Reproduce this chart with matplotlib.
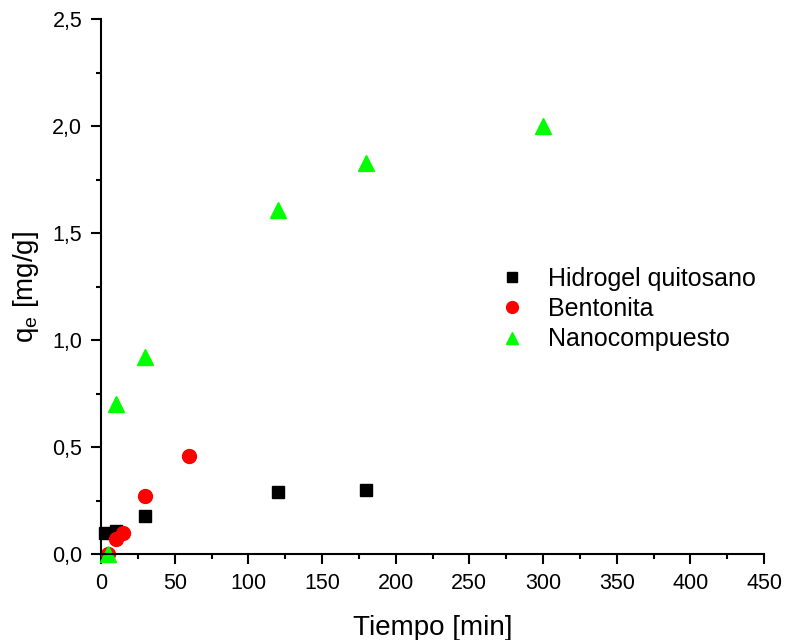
import matplotlib
matplotlib.use("Agg")
import matplotlib.pyplot as plt
from matplotlib.ticker import MultipleLocator, FuncFormatter

plt.rcParams['font.family'] = ['Liberation Sans', 'DejaVu Sans']

# data
t_hidrogel = [3, 10, 30, 120, 180]
q_hidrogel = [0.10, 0.11, 0.18, 0.29, 0.30]

t_bentonita = [5, 10, 15, 30, 60]
q_bentonita = [0.0, 0.07, 0.10, 0.27, 0.46]

t_nano = [5, 10, 30, 120, 180, 300]
q_nano = [0.0, 0.70, 0.92, 1.61, 1.83, 2.0]

fig = plt.figure(figsize=(7.85, 6.4), dpi=100)
ax = fig.add_axes([0.1287, 0.134, 0.8446, 0.836])

ax.plot(t_hidrogel, q_hidrogel, 's', color='black', markersize=9, label='Hidrogel quitosano', clip_on=False)
ax.plot(t_bentonita, q_bentonita, 'o', color='#ff0000', markersize=10, label='Bentonita', clip_on=False)
ax.plot(t_nano, q_nano, '^', color='#00ff00', markersize=11, label='Nanocompuesto', clip_on=False)

ax.set_xlim(0, 450)
ax.set_ylim(0, 2.5)
ax.xaxis.set_major_locator(MultipleLocator(50))
ax.xaxis.set_minor_locator(MultipleLocator(25))
ax.yaxis.set_major_locator(MultipleLocator(0.5))
ax.yaxis.set_minor_locator(MultipleLocator(0.25))
ax.yaxis.set_major_formatter(FuncFormatter(lambda v, p: f"{v:.1f}".replace('.', ',')))

for s in ['top', 'right']:
    ax.spines[s].set_visible(False)
for s in ['left', 'bottom']:
    ax.spines[s].set_linewidth(1.5)
ax.tick_params(which='major', direction='out', length=7, width=1.5, labelsize=15.5, pad=6.5)
ax.tick_params(which='minor', direction='out', length=3.6, width=1.5)

ax.set_xlabel('Tiempo [min]', fontsize=20, labelpad=15)
ax.set_ylabel('q$_\\mathregular{e}$ [mg/g]', fontsize=20, labelpad=8)

ax.legend(loc='center left', bbox_to_anchor=(0.548, 0.458), frameon=False, fontsize=18,
          handletextpad=0.45, labelspacing=0.25, markerscale=0.85)

fig.savefig('out.png', dpi=100)
